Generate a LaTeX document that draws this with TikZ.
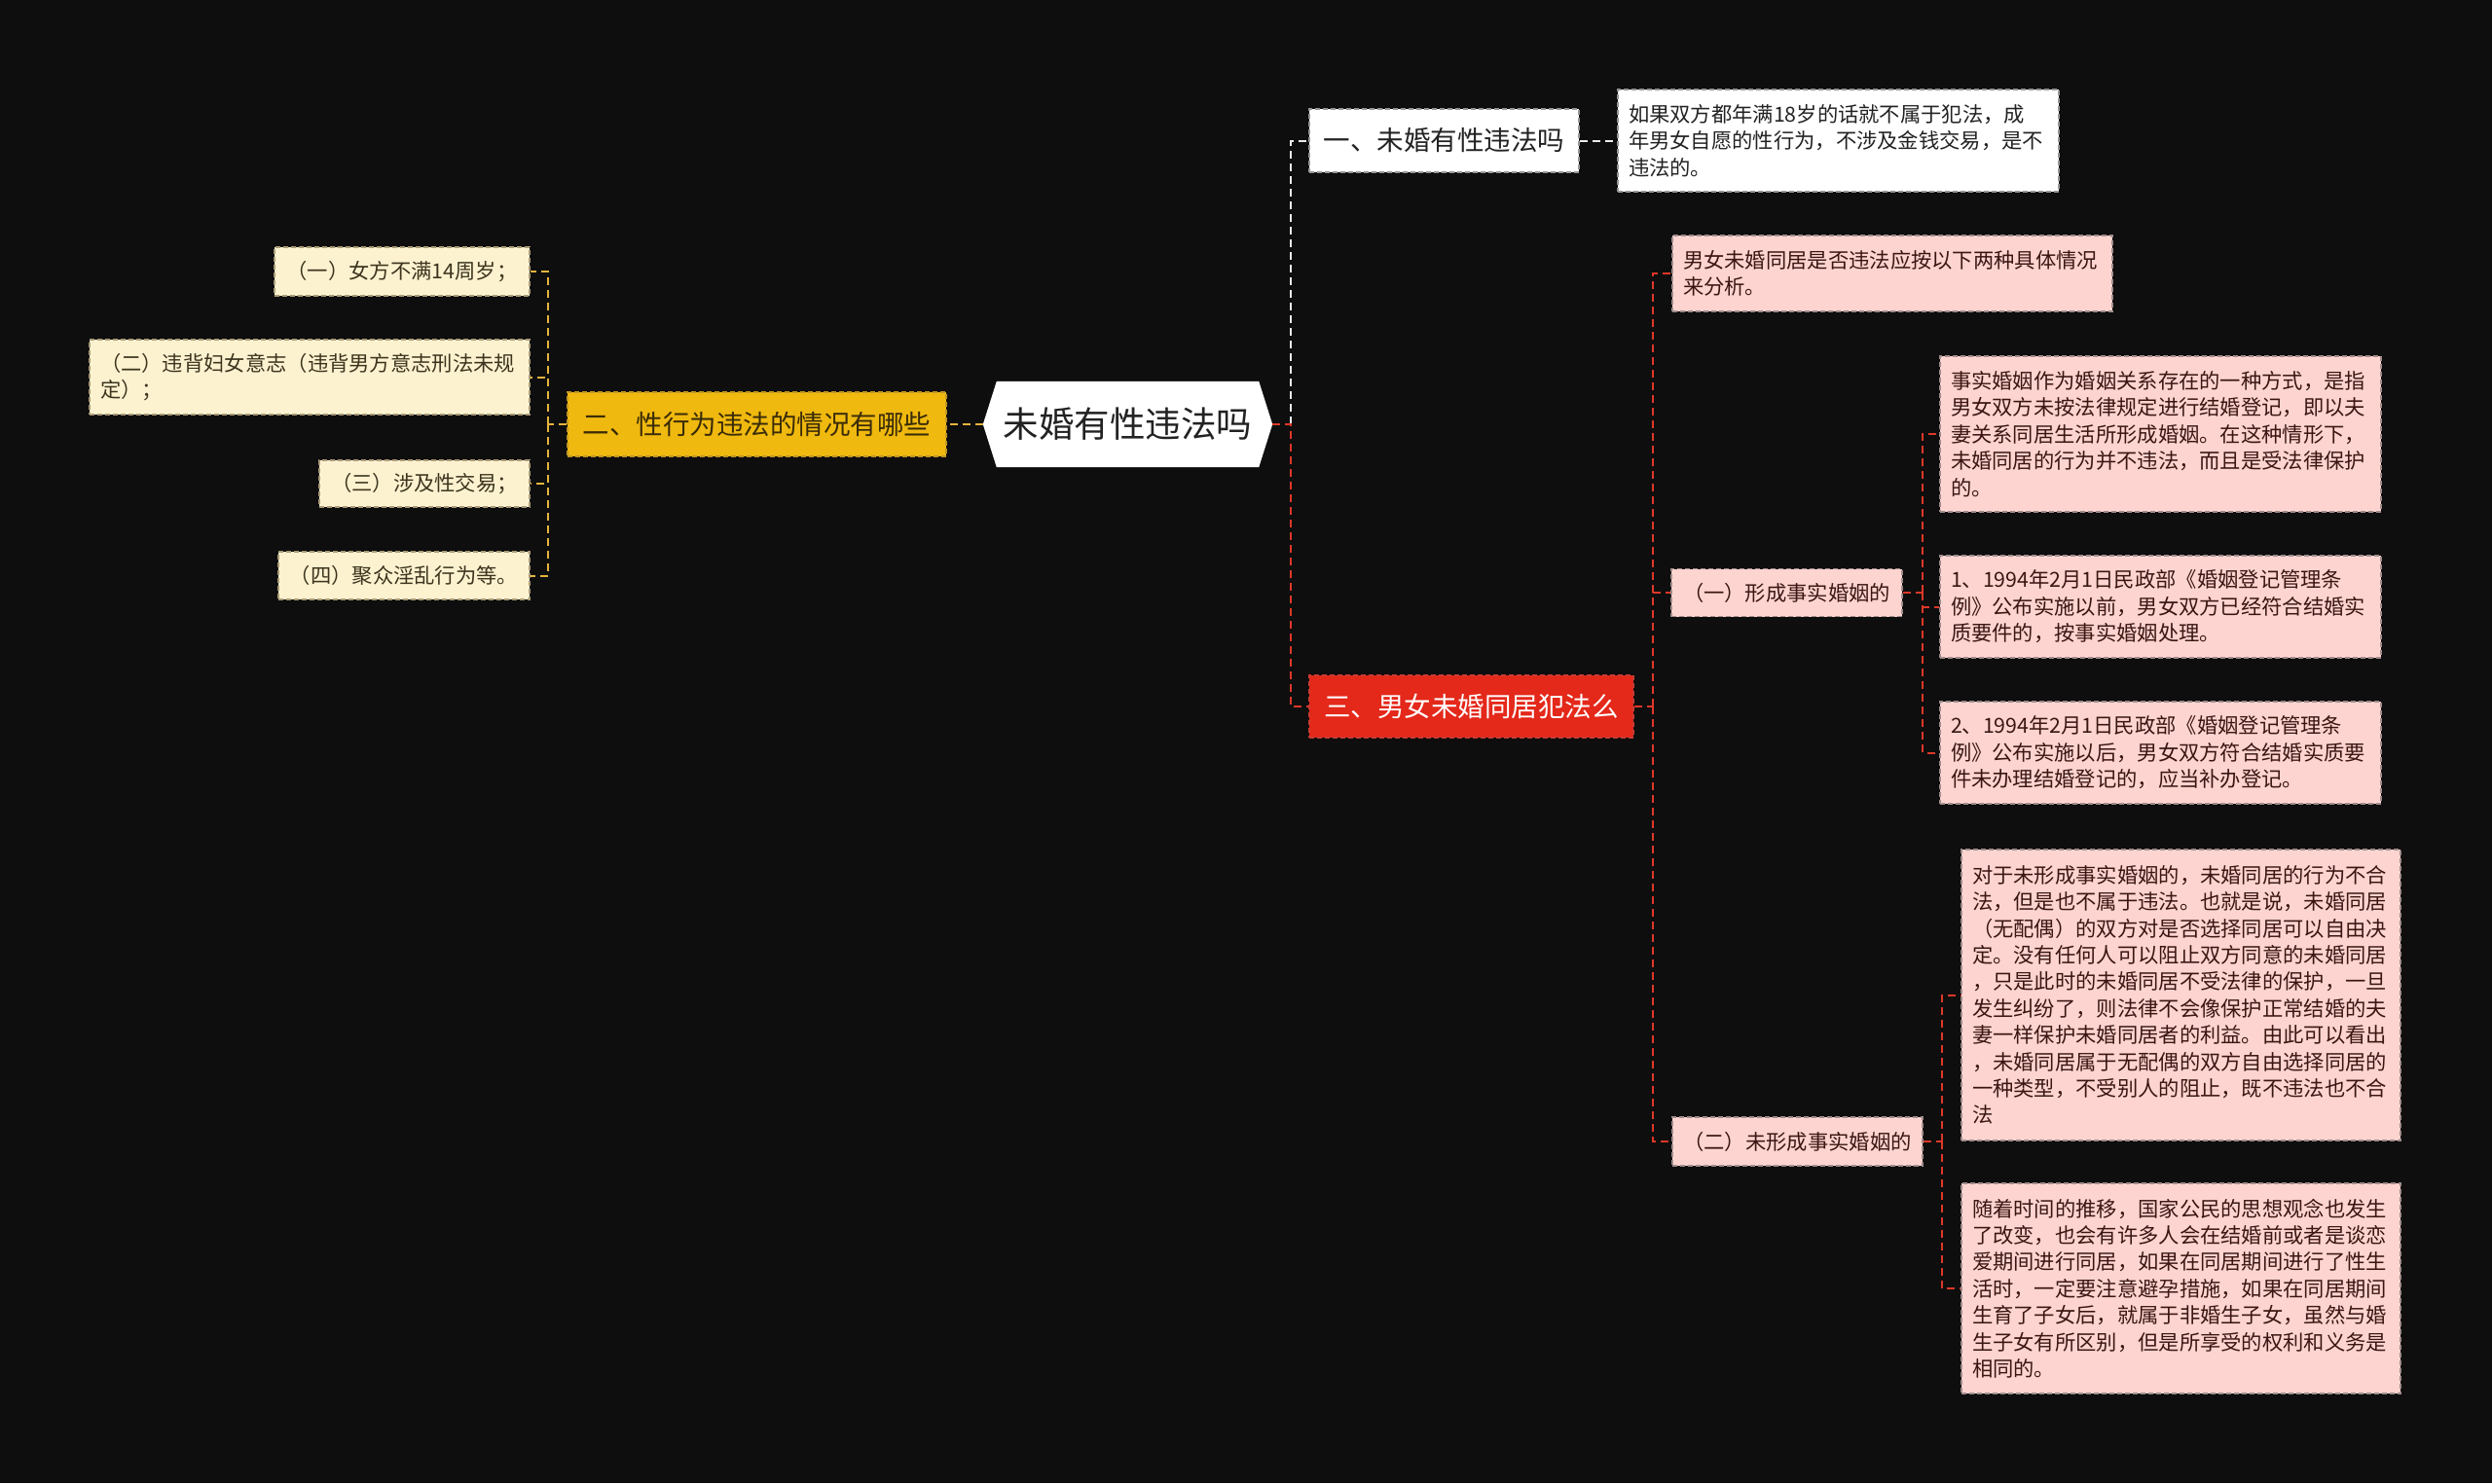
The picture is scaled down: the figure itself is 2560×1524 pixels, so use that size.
\documentclass[tikz,border=0pt]{standalone}
\usepackage{fontspec}
\setmainfont{Noto Sans CJK SC}
\usetikzlibrary{backgrounds}
\definecolor{bgC}{RGB}{14,14,14}
\definecolor{redC}{RGB}{222,56,40}
\definecolor{goldC}{RGB}{230,180,60}
\definecolor{whiteC}{RGB}{235,235,235}
\definecolor{redF}{RGB}{228,40,26}
\definecolor{redD}{RGB}{200,60,50}
\definecolor{yelF}{RGB}{240,185,15}
\definecolor{yelD}{RGB}{190,150,40}
\definecolor{yelT}{RGB}{58,44,8}
\definecolor{creamF}{RGB}{253,242,208}
\definecolor{creamD}{RGB}{170,155,120}
\definecolor{creamT}{RGB}{60,52,30}
\definecolor{pinkF}{RGB}{253,212,208}
\definecolor{pinkD}{RGB}{160,140,140}
\definecolor{pinkT}{RGB}{58,22,18}
\definecolor{grayD}{RGB}{150,150,150}
\definecolor{darkT}{RGB}{34,34,34}
\begin{document}
\begin{tikzpicture}[x=1pt,y=-1pt,
  mmbox/.style={rectangle, inner xsep=11pt, inner ysep=0pt, line width=1.3pt, dash pattern=on 5pt off 3pt},
  lf/.style={font=\fontsize{21.3}{27.4}\selectfont},
  mf/.style={font=\fontsize{27.5}{33}\selectfont},
  creambox/.style={mmbox, lf, fill=creamF, draw=creamD, text=creamT},
  pinkbox/.style={mmbox, lf, fill=pinkF, draw=pinkD, text=pinkT},
  whitebox/.style={mmbox, fill=white, draw=grayD, text=darkT},
  conn/.style={line width=2pt, dash pattern=on 8pt off 5pt},
]
\useasboundingbox (0,0) rectangle (2560,1524);
\begin{scope}[on background layer]
\fill[bgC] (0,0) rectangle (2560,1524);
\end{scope}

% root
\node[rectangle, minimum width=297pt, minimum height=88pt, inner sep=0pt, text=darkT,
  font=\fontsize{36.5}{42}\selectfont] (root) at (1158.5,436) {未婚有性违法吗};
\begin{scope}[on background layer]
\fill[white] (root.west) -- ([xshift=14pt]root.north west) -- ([xshift=-14pt]root.north east)
  -- (root.east) -- ([xshift=-14pt]root.south east) -- ([xshift=14pt]root.south west) -- cycle;
\end{scope}

% branch one
\node[whitebox, mf, minimum width=277pt, minimum height=65pt] (n1) at (1483.5,144.5) {一、未婚有性违法吗};
\node[whitebox, lf, text width=431pt, align=left, minimum height=105pt] (n1d) at (1888.5,144.5)
 {如果双方都年满18岁的话就不属于犯法，成\\年男女自愿的性行为，不涉及金钱交易，是不\\违法的。};

% branch two
\node[mmbox, mf, fill=yelF, draw=yelD, text=yelT, minimum width=389pt, minimum height=66pt] (n2) at (777.5,436) {二、性行为违法的情况有哪些};
\node[creambox, minimum width=262pt, minimum height=50pt] (y1) at (413,279) {（一）女方不满14周岁；};
\node[creambox, text width=430pt, align=left, minimum height=77pt] (y2) at (318,387.5)
 {（二）违背妇女意志（违背男方意志刑法未规\\定）；};
\node[creambox, minimum width=216pt, minimum height=48pt] (y3) at (436,497) {（三）涉及性交易；};
\node[creambox, minimum width=258pt, minimum height=49pt] (y4) at (415,591.5) {（四）聚众淫乱行为等。};

% branch three
\node[mmbox, mf, fill=redF, draw=redD, text=white, minimum width=333pt, minimum height=64pt] (n3) at (1511.5,726) {三、男女未婚同居犯法么};
\node[pinkbox, text width=430pt, align=left, minimum height=78pt] (p0) at (1944,281)
 {男女未婚同居是否违法应按以下两种具体情况\\来分析。};
\node[pinkbox, minimum width=237pt, minimum height=49pt] (pa) at (1835.5,609) {（一）形成事实婚姻的};
\node[pinkbox, text width=431pt, align=left, minimum height=160pt] (p4) at (2219.5,446)
 {事实婚姻作为婚姻关系存在的一种方式，是指\\男女双方未按法律规定进行结婚登记，即以夫\\妻关系同居生活所形成婚姻。在这种情形下，\\未婚同居的行为并不违法，而且是受法律保护\\的。};
\node[pinkbox, text width=431pt, align=left, minimum height=105pt] (p6) at (2219.5,623.5)
 {1、1994年2月1日民政部《婚姻登记管理条\\例》公布实施以前，男女双方已经符合结婚实\\质要件的，按事实婚姻处理。};
\node[pinkbox, text width=431pt, align=left, minimum height=105pt] (p7) at (2219.5,773.5)
 {2、1994年2月1日民政部《婚姻登记管理条\\例》公布实施以后，男女双方符合结婚实质要\\件未办理结婚登记的，应当补办登记。};
\node[pinkbox, minimum width=257pt, minimum height=50pt] (pb) at (1846.5,1173) {（二）未形成事实婚姻的};
\node[pinkbox, text width=429pt, align=left, minimum height=299pt] (p10) at (2240.5,1022.5)
 {对于未形成事实婚姻的，未婚同居的行为不合\\法，但是也不属于违法。也就是说，未婚同居\\（无配偶）的双方对是否选择同居可以自由决\\定。没有任何人可以阻止双方同意的未婚同居\\，只是此时的未婚同居不受法律的保护，一旦\\发生纠纷了，则法律不会像保护正常结婚的夫\\妻一样保护未婚同居者的利益。由此可以看出\\，未婚同居属于无配偶的双方自由选择同居的\\一种类型，不受别人的阻止，既不违法也不合\\法};
\node[pinkbox, text width=429pt, align=left, minimum height=216pt] (p11) at (2240.5,1324)
 {随着时间的推移，国家公民的思想观念也发生\\了改变，也会有许多人会在结婚前或者是谈恋\\爱期间进行同居，如果在同居期间进行了性生\\活时，一定要注意避孕措施，如果在同居期间\\生育了子女后，就属于非婚生子女，虽然与婚\\生子女有所区别，但是所享受的权利和义务是\\相同的。};

% junctions
\coordinate (jR) at (1326,436);
\coordinate (jY) at (563,436);
\coordinate (j3) at (1698,726);
\coordinate (jA) at (1975,609);
\coordinate (jB) at (1995,1173);

% connectors
\draw[conn, whiteC] (jR) |- (n1.west);
\draw[conn, whiteC] (n1.east) -- (n1d.west);
\draw[conn, redC] (root.east) -- (jR) |- (n3.west);
\draw[conn, goldC] (root.west) -- (n2.east);
\draw[conn, goldC] (n2.west) -- (jY);
\draw[conn, goldC] (jY) |- (y1.east);
\draw[conn, goldC] (jY) |- (y2.east);
\draw[conn, goldC] (jY) |- (y3.east);
\draw[conn, goldC] (jY) |- (y4.east);
\draw[conn, redC] (n3.east) -- (j3);
\draw[conn, redC] (j3) |- (p0.west);
\draw[conn, redC] (j3) |- (pa.west);
\draw[conn, redC] (j3) |- (pb.west);
\draw[conn, redC] (pa.east) -- (jA);
\draw[conn, redC] (jA) |- (p4.west);
\draw[conn, redC] (jA) |- (p6.west);
\draw[conn, redC] (jA) |- (p7.west);
\draw[conn, redC] (pb.east) -- (jB);
\draw[conn, redC] (jB) |- (p10.west);
\draw[conn, redC] (jB) |- (p11.west);
\end{tikzpicture}
\end{document}
